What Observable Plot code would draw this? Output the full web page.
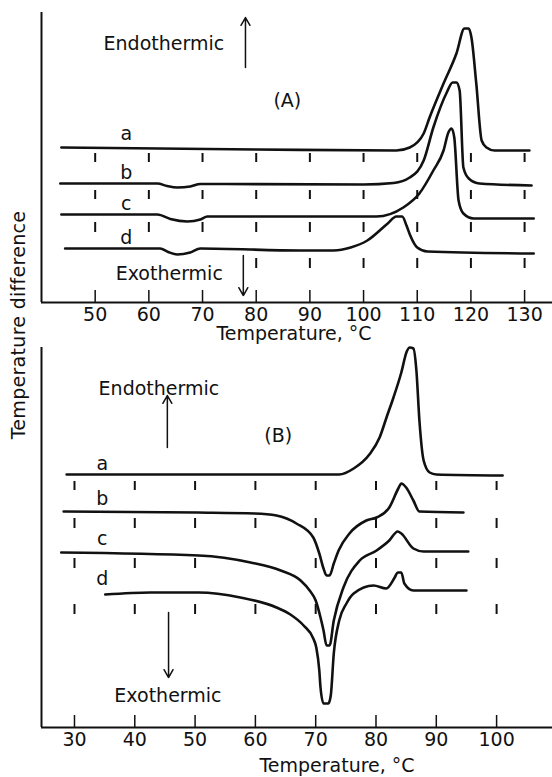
<!DOCTYPE html>
<html>
<head>
<meta charset="utf-8">
<script src="https://cdn.jsdelivr.net/npm/d3@7"></script>
<script src="https://cdn.jsdelivr.net/npm/@observablehq/plot@0.6"></script>
<style>
  html, body { margin: 0; padding: 0; background: #fff; }
  #wrap { position: relative; width: 552px; height: 777px; overflow: hidden; background: #fff; }
  #wrap svg { position: absolute; left: 0; }
  #ylab { position: absolute; left: 18px; top: 325px; transform: translate(-50%, -50%) rotate(-90deg);
          font-family: "DejaVu Sans", sans-serif; font-size: 19px; white-space: nowrap; color: #111; letter-spacing: 0.3px; }
</style>
</head>
<body>
<div id="wrap"><div id="ylab">Temperature difference</div></div>
<script>
// ---------------- DATA ----------------
// Panel A: temperature ticks (°C)
const tempTicksA = [50, 60, 70, 80, 90, 100, 110, 120, 130];
// Panel B: temperature ticks (°C)
const tempTicksB = [30, 40, 50, 60, 70, 80, 90, 100];

// Panel A curves: [temperature °C, signal (arbitrary units, offset included)]
const curveAa = [[43.7,155],[80,153],[106.1,152],[108.6,155],[111.2,169],[112.3,185],[114.9,219],[117.3,249],[118.8,274],[119.6,274],[120.1,265],[121.0,219],[122.0,162],[122.9,155],[124.4,152],[130.9,152]];
const curveAb = [[43.5,119],[61.6,119],[63.4,116.5],[65.3,115],[67.7,116],[69.6,118.5],[100,118],[105.6,119.5],[108.6,125],[111.2,142],[113.0,175],[115.5,210],[116.6,220],[117.3,220],[117.9,212],[118.6,135],[119.6,124],[121.6,119],[131.3,117]];
const curveAc = [[43.7,88],[61.6,88],[64.0,83.5],[67.2,81],[69.6,83],[70.9,86],[88.2,86],[102.4,86],[107.4,95],[110.4,109],[113.0,132],[114.9,152],[115.8,170],[116.4,174],[116.9,165],[117.7,102],[118.6,89],[120.5,84],[131.7,84]];
const curveAd = [[44.4,54],[62.1,54],[63.6,50.5],[65.3,48],[67.7,50],[69.6,54],[88.2,52],[94.4,52],[97.6,55],[100.7,62],[104.5,79],[106.1,86],[107.2,86],[108.0,77],[108.7,67],[110.0,55],[111.9,51],[131.7,49]];

// Panel B curves
const curveBa = [[28.7,253],[73.9,253],[76.3,259],[78.9,273],[80.6,290],[81.8,311],[82.9,330],[84.2,355],[85.1,376],[85.6,380],[86.2,379],[86.7,357],[87.2,307],[87.9,267],[88.9,255],[90.0,253],[101.0,252]];
const curveBb = [[28.2,216],[50.4,215],[59.9,214],[63.5,212],[66.8,204],[69.6,190],[70.6,174],[71.3,159],[71.8,152],[72.3,152],[73.0,164],[73.8,177],[75.6,194],[78.4,207],[80.1,210],[82.2,220],[83.7,239],[84.2,244],[85.0,240],[86.2,227],[87.2,216],[94.5,215]];
const curveBc = [[27.8,175],[50.6,172],[59.2,165],[64.2,157],[67.5,147],[69.0,137],[70.0,127],[70.8,110],[71.3,97],[71.8,82],[72.3,82],[73.0,107],[74.6,140],[77.3,167],[80.1,177],[82.2,187],[83.6,196],[84.2,194],[86.2,179],[87.9,176],[95.3,176]];
const curveBd = [[35.1,133],[42.6,135],[50.6,135],[57.5,130],[63.5,120],[65.8,113],[68.0,102],[69.6,89],[70.1,80],[70.6,57],[70.8,40],[71.3,24],[72.1,24],[72.5,32],[73.0,74],[73.9,107],[75.1,124],[76.3,134],[79.6,142],[81.7,139],[83.1,150],[83.6,155],[84.2,155],[84.7,144],[86.2,137],[95.0,137]];

// Temperature calibration marks (temperatures, and signal span of each row)
const calibTempsA = [50, 60, 70, 80, 90, 100, 110, 120, 130];
const calibTempsA4 = [80, 90, 100, 110, 120, 130];
const calibRowsA = [[140, 149], [103, 112], [70, 80], [34, 44]];
const calibTempsB = [30, 40, 50, 60, 70, 80, 90, 100];
const calibTempsB3 = [30, 40, 50, 70, 80, 90, 100];
const calibRowsB = [[237, 246], [199, 209], [159, 169], [113, 123]];

// Curve letters
const curveNames = ["a", "b", "c", "d"];
const labelPosA = [[55.8, 169], [55.8, 130], [55.8, 99], [55.8, 65]];
const labelPosB = [[34.6, 264], [34.6, 229], [34.6, 189], [34.6, 149]];

// Annotations
const annotA = [{text: "Endothermic", T: 62.8, y: 259}, {text: "(A)", T: 85.8, y: 202}, {text: "Exothermic", T: 63.8, y: 29}];
const annotB = [{text: "Endothermic", T: 44.0, y: 339}, {text: "(B)", T: 63.8, y: 292}, {text: "Exothermic", T: 45.5, y: 32}];
const arrowsA = [{T: 78.0, from: 235, to: 285}, {T: 77.6, from: 47, to: 7}];
const arrowsB = [{T: 45.4, from: 280, to: 332}, {T: 45.6, from: 115, to: 50}];

const xTitle = "Temperature, °C";

// ---------------- BUILD ----------------
const INK = "#111";
const FONT = {fontFamily: "DejaVu Sans, sans-serif", fontSize: "19px", color: INK, background: "transparent"};

function toRows(pairs, name) { return pairs.map(([T, y]) => ({T, y, name})); }

function panel({curves, calibRows, calibTemps, ticks, xDomain, yDomain, labels, annots, arrows,
                width, height, mt, mb, ml, tickPad, titleDy, titleDx}) {
  const lines = curves.flatMap((c, i) => toRows(c, curveNames[i]));
  const calib = calibRows.flatMap(([y1, y2], i) => calibTemps[i].map(T => ({T, y1, y2})));
  const labs = labels.map(([T, y], i) => ({T, y, text: curveNames[i]}));
  return Plot.plot({
    width, height, marginTop: mt, marginBottom: mb, marginLeft: ml, marginRight: 0,
    style: FONT,
    x: {domain: xDomain, ticks, tickSize: 0, tickPadding: tickPad, label: null},
    y: {domain: yDomain, axis: null},
    marks: [
      Plot.ruleY([yDomain[0]], {stroke: INK, strokeWidth: 2}),
      Plot.ruleX([xDomain[0]], {y1: yDomain[0], y2: yDomain[1], stroke: INK, strokeWidth: 2}),
      Plot.ruleX(ticks, {x: d => d, y1: yDomain[0], y2: yDomain[0] + 12, stroke: INK, strokeWidth: 1.5}),
      Plot.ruleX(calib, {x: "T", y1: "y1", y2: "y2", stroke: INK, strokeWidth: 2}),
      Plot.line(lines, {x: "T", y: "y", z: "name", stroke: INK, strokeWidth: 2.6, curve: "monotone-x"}),
      Plot.text(labs, {x: "T", y: "y", text: "text", fill: INK}),
      Plot.text(annots, {x: "T", y: "y", text: "text", fill: INK}),
      Plot.arrow(arrows, {x1: "T", x2: "T", y1: "from", y2: "to", stroke: INK, strokeWidth: 1.5, headLength: 9}),
      Plot.text([xTitle], {frameAnchor: "bottom", lineAnchor: "middle", text: d => d, dy: titleDy, dx: titleDx, fill: INK})
    ]
  });
}

const wrap = document.getElementById("wrap");

const svgA = panel({
  curves: [curveAa, curveAb, curveAc, curveAd],
  calibRows: calibRowsA,
  calibTemps: [calibTempsA, calibTempsA, calibTempsA, calibTempsA4],
  ticks: tempTicksA, xDomain: [40, 135.2], yDomain: [0, 290],
  labels: labelPosA, annots: annotA, arrows: arrowsA,
  width: 552, height: 345, mt: 12, mb: 43, ml: 41, tickPad: 5, titleDy: 31, titleDx: -3
});
svgA.style.top = "0px";
wrap.appendChild(svgA);

const svgB = panel({
  curves: [curveBa, curveBb, curveBc, curveBd],
  calibRows: calibRowsB,
  calibTemps: [calibTempsB, calibTempsB, calibTempsB3, calibTempsB],
  ticks: tempTicksB, xDomain: [24.53, 109.27], yDomain: [0, 380],
  labels: labelPosB, annots: annotB, arrows: arrowsB,
  width: 552, height: 432, mt: 2, mb: 50, ml: 41, tickPad: 5, titleDy: 38, titleDx: 40
});
svgB.style.top = "345px";
wrap.appendChild(svgB);
</script>
</body>
</html>
